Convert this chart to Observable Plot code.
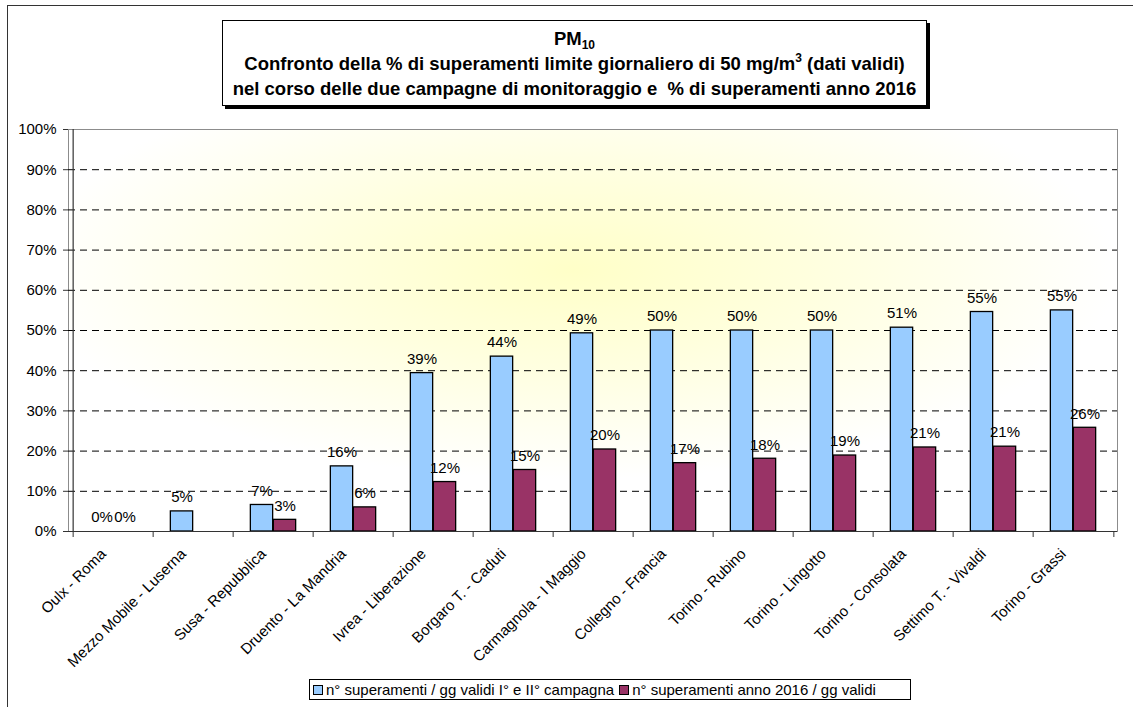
<!DOCTYPE html>
<html>
<head>
<meta charset="utf-8">
<script src="https://cdn.jsdelivr.net/npm/d3@7"></script>
<script src="https://cdn.jsdelivr.net/npm/@observablehq/plot@0.6"></script>
<style>
  html, body { margin: 0; padding: 0; background: #fff; }
  body { width: 1133px; height: 707px; position: relative; overflow: hidden; font-family: "Liberation Sans", Arial, sans-serif; }
  #outer { position: absolute; left: 7px; top: 5px; width: 1200px; height: 800px; border-left: 1px solid #333; border-top: 1px solid #333; }
  #chart { position: absolute; left: 0; top: 0; }
  #title { position: absolute; left: 222px; top: 20px; width: 705px; height: 86px; border: 1px solid #000; background: #fff;
           box-shadow: 3px 3px 0 #000; text-align: center; font-weight: bold; font-size: 18.5px; color: #000; box-sizing: border-box; }
  #title div { position: absolute; left: 0; right: 0; white-space: nowrap; line-height: 21px; }
  #title sub { font-size: 12px; vertical-align: baseline; position: relative; top: 4px; }
  #title sup { font-size: 12px; vertical-align: baseline; position: relative; top: -8px; }
  #legend { position: absolute; left: 309px; top: 679px; width: 602px; height: 21px; border: 1px solid #000; background: #fff;
            box-sizing: border-box; font-size: 15px; display: flex; align-items: center; padding-left: 3px; white-space: nowrap; }
  .sw { display: inline-block; width: 8px; height: 8px; border: 1px solid #000; margin-right: 3px; }
  .item { display: inline-flex; align-items: center; margin-right: 5px; }
</style>
</head>
<body>
<svg width="0" height="0" style="position:absolute">
  <defs>
    <radialGradient id="bg" cx="0.48" cy="0.35" r="0.52" fx="0.48" fy="0.35">
      <stop offset="0" stop-color="#ffffc8"/>
      <stop offset="0.45" stop-color="#ffffdf"/>
      <stop offset="1" stop-color="#ffffff"/>
    </radialGradient>
  </defs>
</svg>
<div id="outer"></div>
<div id="chart"></div>
<div id="title">
  <div style="top:7px">PM<sub>10</sub></div>
  <div style="top:32px">Confronto della % di superamenti limite giornaliero di 50 mg/m<sup>3</sup> (dati validi)</div>
  <div style="top:57px">nel corso delle due campagne di monitoraggio e &nbsp;% di superamenti anno 2016</div>
</div>
<div id="legend"></div>
<script>
const categories = ["Oulx - Roma", "Mezzo Mobile - Luserna", "Susa - Repubblica", "Druento - La Mandria",
  "Ivrea - Liberazione", "Borgaro T. - Caduti", "Carmagnola - I Maggio", "Collegno - Francia",
  "Torino - Rubino", "Torino - Lingotto", "Torino - Consolata", "Settimo T. - Vivaldi", "Torino - Grassi"];
const campagna = [0, 0.050, 0.066, 0.162, 0.394, 0.435, 0.493, 0.500, 0.500, 0.500, 0.507, 0.546, 0.550];
const anno2016 = [0, null, 0.029, 0.060, 0.123, 0.153, 0.204, 0.170, 0.181, 0.189, 0.209, 0.211, 0.258];
const seriesNames = ["n° superamenti / gg validi I° e II° campagna", "n° superamenti anno 2016 / gg validi"];
const seriesColors = ["#99ccff", "#993366"];
const yTicks = [0, 0.1, 0.2, 0.3, 0.4, 0.5, 0.6, 0.7, 0.8, 0.9, 1];
const gridTicks = [0.1, 0.2, 0.3, 0.4, 0.5, 0.6, 0.7, 0.8, 0.9];

const W = 1133, H = 707, mL = 68, mR = 16, mT = 129, mB = 176;
const band = (W - mL - mR) / categories.length;
const barW = 23;
const inset = (band - barW) / 2;
const fmt = d3.format(".0%");

const rowsA = categories.map((c, i) => ({cat: c, v: campagna[i]})).filter(d => d.v != null);
const rowsB = categories.map((c, i) => ({cat: c, v: anno2016[i]})).filter(d => d.v != null);

const font = "Liberation Sans, Arial, sans-serif";

const chart = Plot.plot({
  width: W, height: H,
  marginLeft: mL, marginRight: mR, marginTop: mT, marginBottom: mB,
  style: {fontFamily: font, fontSize: "15px", color: "#000", background: "transparent"},
  x: {domain: categories, padding: 0, label: null},
  y: {domain: [0, 1], label: null},
  marks: [
    Plot.frame({fill: "url(#bg)", stroke: "#8c8c8c"}),
    Plot.ruleY(gridTicks, {stroke: "#000", strokeWidth: 1, strokeDasharray: "7,5"}),
    Plot.barY(rowsA.filter(d => d.v > 0), {x: "cat", y: "v", fill: seriesColors[0], stroke: "#000", strokeWidth: 1.3,
      insetLeft: inset, insetRight: inset, dx: -barW / 2}),
    Plot.barY(rowsB.filter(d => d.v > 0), {x: "cat", y: "v", fill: seriesColors[1], stroke: "#000", strokeWidth: 1.3,
      insetLeft: inset, insetRight: inset, dx: barW / 2}),
    Plot.text(rowsA, {x: "cat", y: "v", text: d => fmt(d.v), dx: -barW / 2, dy: -14, fontSize: 15, fill: "#000"}),
    Plot.text(rowsB, {x: "cat", y: "v", text: d => fmt(d.v), dx: barW / 2, dy: -14, fontSize: 15, fill: "#000"}),
    Plot.ruleX([categories[0]], {dx: -band / 2, stroke: "#333", strokeWidth: 1.2}),
    Plot.ruleY([0], {stroke: "#333", strokeWidth: 1.2}),
    Plot.axisY(yTicks, {tickFormat: fmt, tickSize: 5, tickPadding: 7, fontSize: 15, stroke: "#333", label: null}),
    Plot.axisX({tickSize: 6, tickFormat: () => "", dx: -band / 2, stroke: "#333", label: null}),
    Plot.axisX([categories[categories.length - 1]], {tickSize: 6, tickFormat: () => "", dx: band / 2, stroke: "#333", label: null}),
    Plot.axisX({tickSize: 0, tickRotate: -45, tickPadding: 20, dx: -10, fontSize: 15, fill: "#000", label: null})
  ]
});
document.getElementById("chart").appendChild(chart);

const legend = document.getElementById("legend");
seriesNames.forEach((n, i) => {
  const it = document.createElement("span");
  it.className = "item";
  const sw = document.createElement("span");
  sw.className = "sw";
  sw.style.background = seriesColors[i];
  it.appendChild(sw);
  it.appendChild(document.createTextNode(n));
  legend.appendChild(it);
});
</script>
</body>
</html>
